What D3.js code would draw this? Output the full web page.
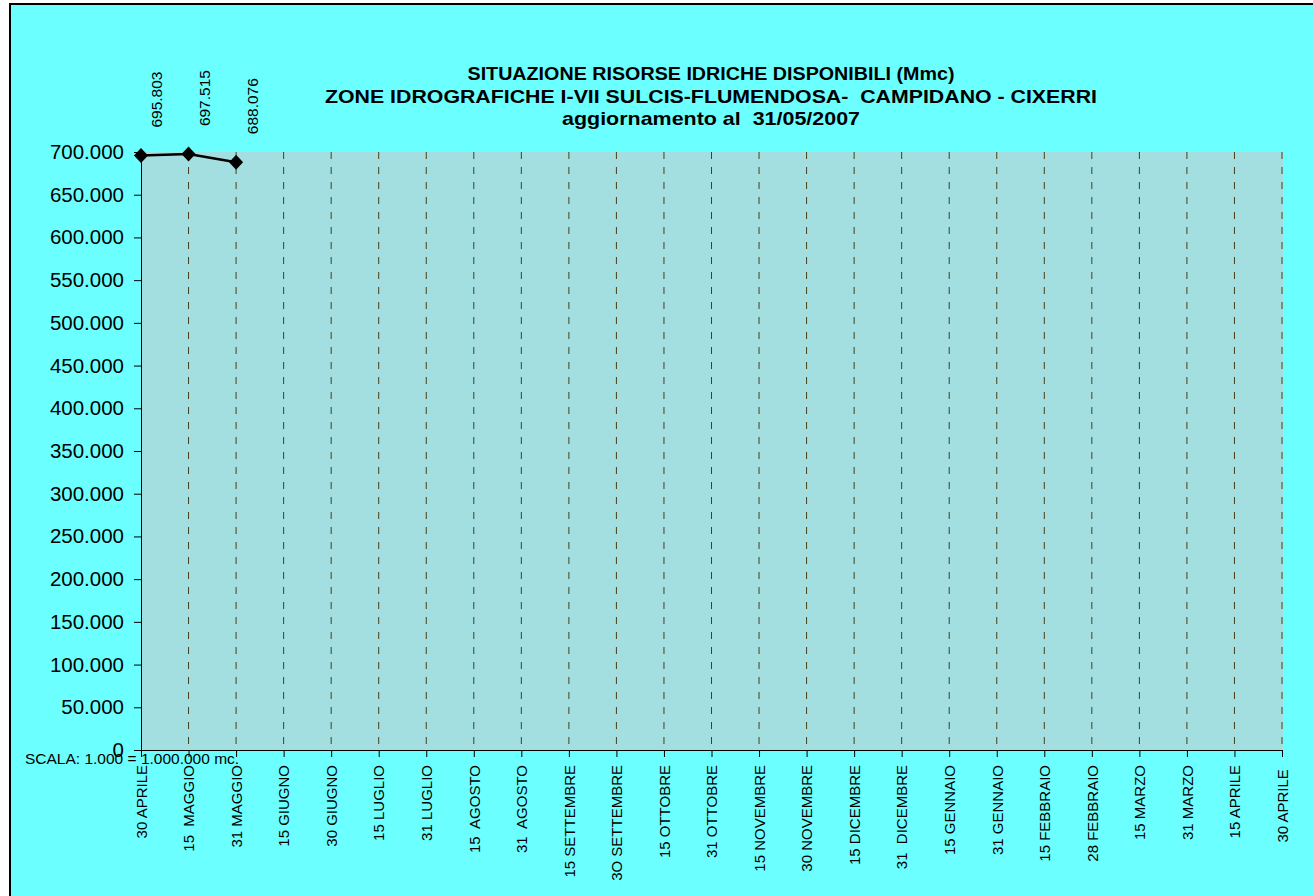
<!DOCTYPE html>
<html>
<head>
<meta charset="utf-8">
<script src="https://cdn.jsdelivr.net/npm/d3@7"></script>
<style>
  body { margin: 0; background: #ffffff; }
  svg { display: block; font-family: Arial, "Liberation Sans", sans-serif; }
  text { white-space: pre; }
</style>
</head>
<body>
<svg width="1313" height="896"></svg>
<script>
// categories on the x axis (Excel labels, spacing kept as in the original)
const dates = [
  "30 APRILE", "15  MAGGIO", "31 MAGGIO", "15 GIUGNO", "30 GIUGNO", "15 LUGLIO",
  "31 LUGLIO", "15  AGOSTO", "31  AGOSTO", "15 SETTEMBRE", "3O SETTEMBRE",
  "15 OTTOBRE", "31 OTTOBRE", "15 NOVEMBRE", "30 NOVEMBRE", "15 DICEMBRE",
  "31  DICEMBRE", "15 GENNAIO", "31 GENNAIO", "15 FEBBRAIO", "28 FEBBRAIO",
  "15 MARZO", "31 MARZO", "15 APRILE", "30 APRILE "
];
// volumes available (Mmc), only first three dates filled
const volumes = [695.803, 697.515, 688.076];
const volumeLabels = ["695.803", "697.515", "688.076"];
const yTicks = [0, 50, 100, 150, 200, 250, 300, 350, 400, 450, 500, 550, 600, 650, 700];

const titleLines = [
  "SITUAZIONE RISORSE IDRICHE DISPONIBILI (Mmc)",
  "ZONE IDROGRAFICHE I-VII SULCIS-FLUMENDOSA-  CAMPIDANO - CIXERRI",
  "aggiornamento al  31/05/2007"
];
const titleWidths = [487, 772, 298];

const svg = d3.select('svg');

// outer chart frame (extends past the right / bottom edge)
svg.append('rect')
  .attr('x', 10).attr('y', 4)
  .attr('width', 1320).attr('height', 900)
  .attr('fill', '#6cffff')
  .attr('stroke', '#000').attr('stroke-width', 2);

const plotL = 141, plotR = 1282, plotT = 152, plotB = 750;

const xScale = d3.scalePoint()
  .domain(d3.range(dates.length))
  .range([plotL, plotR]);

const yScale = d3.scaleLinear()
  .domain([0, 700])
  .range([plotB, plotT]);

// plot area
svg.append('rect')
  .attr('x', plotL).attr('y', plotT)
  .attr('width', plotR - plotL + 1).attr('height', plotB - plotT)
  .attr('fill', '#a3dfe0');

// dashed vertical gridlines
svg.append('g').selectAll('line')
  .data(d3.range(1, dates.length))
  .enter().append('line')
  .attr('x1', d => xScale(d)).attr('x2', d => xScale(d))
  .attr('y1', plotT).attr('y2', plotB)
  .attr('stroke', '#4a3e14')
  .attr('stroke-width', 1)
  .attr('stroke-dasharray', '7,8');

// y axis
const yAxis = d3.axisLeft(yScale)
  .tickValues(yTicks)
  .tickSize(7)
  .tickPadding(10)
  .tickFormat(d => d === 0 ? '0' : d + '.000');

const gy = svg.append('g').attr('transform', `translate(${plotL},0)`).call(yAxis);
gy.select('.domain').attr('stroke', '#000');
gy.selectAll('line').attr('stroke', '#000');
gy.selectAll('text')
  .style('font-size', '20.5px')
  .attr('fill', '#000');

// x axis
const xAxis = d3.axisBottom(xScale)
  .tickSize(7)
  .tickFormat(i => dates[i]);

const gx = svg.append('g').attr('transform', `translate(0,${plotB})`).call(xAxis);
gx.select('.domain').attr('stroke', '#000');
gx.selectAll('line').attr('stroke', '#000');
gx.selectAll('text')
  .attr('transform', 'rotate(-90)')
  .attr('x', -15)
  .attr('y', 0)
  .attr('dy', '0.35em')
  .style('text-anchor', 'end')
  .style('font-size', '15px')
  .attr('fill', '#000');

// scale note
svg.append('text')
  .attr('x', 25).attr('y', 764)
  .style('font-size', '15.5px')
  .text('SCALA: 1.000 = 1.000.000 mc.');

// series line + markers
const line = d3.line()
  .x((d, i) => xScale(i))
  .y(d => yScale(d));

svg.append('path')
  .datum(volumes)
  .attr('d', line)
  .attr('fill', 'none')
  .attr('stroke', '#000')
  .attr('stroke-width', 2.5);

svg.append('g').selectAll('path')
  .data(volumes)
  .enter().append('path')
  .attr('transform', (d, i) => `translate(${xScale(i)},${yScale(d)})`)
  .attr('d', 'M0,-7.5L7,0L0,7.5L-7,0Z')
  .attr('fill', '#000');

// data labels (rotated)
svg.append('g').selectAll('text')
  .data(volumes)
  .enter().append('text')
  .attr('transform', (d, i) => `translate(${xScale(i) + 16},${yScale(d) - 28}) rotate(-90)`)
  .attr('dy', '0.35em')
  .style('font-size', '15.5px')
  .text((d, i) => volumeLabels[i]);

// titles
svg.append('g').selectAll('text')
  .data(titleLines)
  .enter().append('text')
  .attr('x', 711)
  .attr('y', (d, i) => 80 + i * 22.5)
  .attr('text-anchor', 'middle')
  .attr('textLength', (d, i) => titleWidths[i])
  .attr('lengthAdjust', 'spacingAndGlyphs')
  .style('font-size', '18.5px')
  .style('font-weight', 'bold')
  .text(d => d);
</script>
</body>
</html>
